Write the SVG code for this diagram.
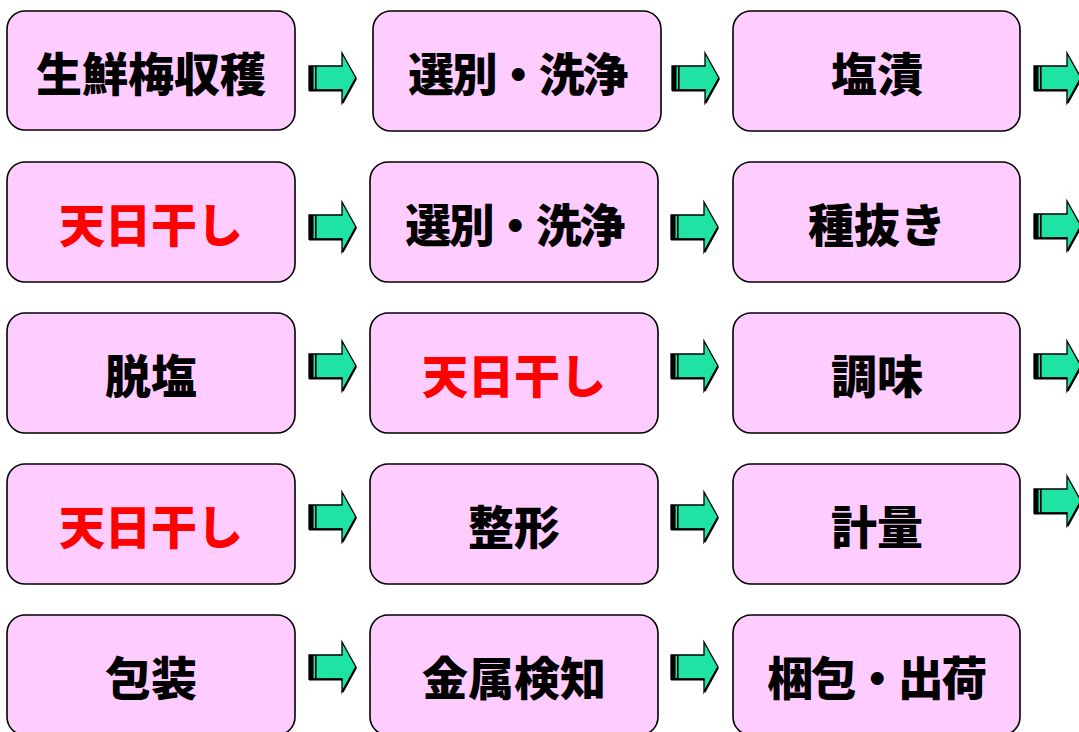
<svg xmlns="http://www.w3.org/2000/svg" width="1079" height="732" viewBox="0 0 1079 732">
<style>
.box{fill:#FFCCFF;stroke:#000;stroke-width:1.6}
.t{font-family:"Noto Sans CJK JP","Noto Sans CJK SC",sans-serif;font-weight:900;font-size:46px;text-anchor:middle;dominant-baseline:central;fill:#000}
.r{fill:#FF0000}
.d{letter-spacing:-2.5px}
</style>
<defs>
<g id="arr">
<path d="M0,-12 H33 V-25 L47,0 L33,25 V12 H0 Z" fill="#1EE3A5" stroke="#000" stroke-width="1.3" stroke-linejoin="miter"/>
<path d="M0,12.5 H33.5 M33.5,25 L47,0.5" fill="none" stroke="#000" stroke-width="2.2"/>
<rect x="0" y="-12" width="4.5" height="24.5" fill="#000"/>
<rect x="6" y="-12" width="1.6" height="24.5" fill="#000"/>
</g>
</defs>
<rect width="1079" height="732" fill="#fff"/>
<g id="connectors">
<use href="#arr" transform="translate(309,78)"/>
<use href="#arr" transform="translate(672,78)"/>
<use href="#arr" transform="translate(1034,78)"/>
<use href="#arr" transform="translate(309,227)"/>
<use href="#arr" transform="translate(671,227)"/>
<use href="#arr" transform="translate(1034,226)"/>
<use href="#arr" transform="translate(309,366)"/>
<use href="#arr" transform="translate(671,366)"/>
<use href="#arr" transform="translate(1034,366)"/>
<use href="#arr" transform="translate(309,517)"/>
<use href="#arr" transform="translate(671,517)"/>
<use href="#arr" transform="translate(1034,501)"/>
<use href="#arr" transform="translate(309,667)"/>
<use href="#arr" transform="translate(671,667)"/>
</g>
<g id="n1"><rect class="box" x="7" y="11" width="288" height="119" rx="18"/><text class="t" x="151" y="71">生鮮梅収穫</text></g>
<g id="n2"><rect class="box" x="373" y="11" width="288" height="120" rx="18"/><text class="t d" x="517" y="71">選別・洗浄</text></g>
<g id="n3"><rect class="box" x="733" y="11" width="287" height="120" rx="18"/><text class="t" x="877" y="71">塩漬</text></g>
<g id="n4"><rect class="box" x="7" y="162" width="288" height="120" rx="18"/><text class="t r" x="151" y="222">天日干し</text></g>
<g id="n5"><rect class="box" x="370" y="162" width="288" height="120" rx="18"/><text class="t d" x="514" y="222">選別・洗浄</text></g>
<g id="n6"><rect class="box" x="733" y="162" width="287" height="120" rx="18"/><text class="t" x="877" y="222">種抜き</text></g>
<g id="n7"><rect class="box" x="7" y="313" width="288" height="120" rx="18"/><text class="t" x="151" y="373">脱塩</text></g>
<g id="n8"><rect class="box" x="370" y="313" width="288" height="120" rx="18"/><text class="t r" x="514" y="373">天日干し</text></g>
<g id="n9"><rect class="box" x="733" y="313" width="287" height="120" rx="18"/><text class="t" x="877" y="373">調味</text></g>
<g id="n10"><rect class="box" x="7" y="464" width="288" height="120" rx="18"/><text class="t r" x="151" y="524">天日干し</text></g>
<g id="n11"><rect class="box" x="370" y="464" width="288" height="120" rx="18"/><text class="t" x="514" y="524">整形</text></g>
<g id="n12"><rect class="box" x="733" y="464" width="287" height="120" rx="18"/><text class="t" x="877" y="524">計量</text></g>
<g id="n13"><rect class="box" x="7" y="615" width="288" height="120" rx="18"/><text class="t" x="151" y="675">包装</text></g>
<g id="n14"><rect class="box" x="370" y="615" width="288" height="120" rx="18"/><text class="t" x="514" y="675">金属検知</text></g>
<g id="n15"><rect class="box" x="733" y="615" width="287" height="120" rx="18"/><text class="t d" x="876" y="675">梱包・出荷</text></g>
</svg>
